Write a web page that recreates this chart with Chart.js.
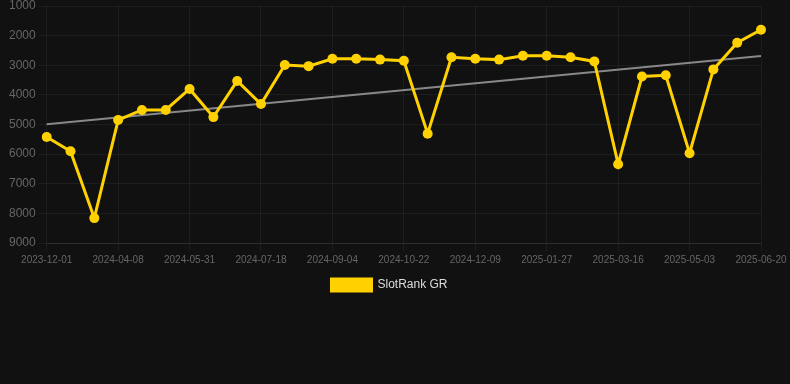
<!DOCTYPE html>
<html>
<head>
<meta charset="utf-8">
<script src="https://cdn.jsdelivr.net/npm/chart.js@4/dist/chart.umd.min.js"></script>
<style>
  html, body { margin: 0; padding: 0; background: #111111; }
  #wrap { width: 790px; height: 301px; position: relative; }
</style>
</head>
<body>
<div id="wrap"><canvas id="rankchart"></canvas></div>
<script>
// dates for each observation (every third one is shown on the axis)
const dates = [
  '2023-12-01', '2024-01-12', '2024-02-24', '2024-04-08', '2024-04-26', '2024-05-13',
  '2024-05-31', '2024-06-16', '2024-07-02', '2024-07-18', '2024-08-03', '2024-08-19',
  '2024-09-04', '2024-09-20', '2024-10-06', '2024-10-22', '2024-11-07', '2024-11-23',
  '2024-12-09', '2024-12-25', '2025-01-11', '2025-01-27', '2025-02-12', '2025-02-28',
  '2025-03-16', '2025-04-01', '2025-04-17', '2025-05-03', '2025-05-19', '2025-06-04',
  '2025-06-20'
];

// rank values
const rankGR = [
  5420, 5900, 8160, 4850, 4510, 4510, 3800, 4750, 3530, 4310, 2990,
  3030, 2780, 2780, 2810, 2850, 5310, 2730, 2780, 2810, 2680, 2680,
  2730, 2870, 6340, 3380, 3340, 5970, 3140, 2240, 1800
];

// trend line end points
const trend = dates.map(() => null);
trend[0] = 4990;
trend[dates.length - 1] = 2690;

const yTicks = [1000, 2000, 3000, 4000, 5000, 6000, 7000, 8000, 9000];

// nudge the legend a little to the right
const legendShift = {
  id: 'legendShift',
  afterLayout(chart) {
    chart.legend.left += 6;
    chart.legend.right += 6;
  }
};

new Chart(document.getElementById('rankchart'), {
  type: 'line',
  data: {
    labels: dates,
    datasets: [
      {
        label: 'SlotRank GR',
        data: rankGR,
        borderColor: '#FFD100',
        backgroundColor: '#FFD100',
        borderWidth: 3,
        pointRadius: 5,
        pointBackgroundColor: '#FFD100',
        pointBorderWidth: 0,
        tension: 0
      },
      {
        label: 'trend',
        data: trend,
        borderColor: 'rgba(150, 150, 150, 0.9)',
        borderWidth: 2,
        pointRadius: 0,
        spanGaps: true,
        fill: false
      }
    ]
  },
  options: {
    responsive: true,
    maintainAspectRatio: false,
    animation: false,
    layout: { padding: { top: 0, right: 29, left: 6 } },
    plugins: {
      tooltip: { enabled: false },
      legend: {
        position: 'bottom',
        labels: {
          color: '#dddddd',
          font: { family: 'Arial, "Liberation Sans", sans-serif', size: 12 },
          boxWidth: 40,
          boxHeight: 12,
          filter: item => item.text !== 'trend'
        }
      }
    },
    scales: {
      x: {
        grid: { color: 'rgba(255,255,255,0.05)' },
        border: { color: 'rgba(255,255,255,0.08)' },
        ticks: {
          color: '#666666',
          font: { family: 'Arial, "Liberation Sans", sans-serif', size: 10 },
          maxRotation: 0,
          autoSkip: false,
          callback: (value, index) => index % 3 === 0 ? dates[index] : null
        }
      },
      y: {
        reverse: true,
        min: 1000,
        max: 9000,
        grid: { color: 'rgba(255,255,255,0.05)' },
        border: { display: false },
        afterBuildTicks: axis => { axis.ticks = yTicks.map(v => ({ value: v })); },
        ticks: {
          color: '#666666',
          font: { family: 'Arial, "Liberation Sans", sans-serif', size: 12, lineHeight: 0.5 },
          callback: value => String(value)
        }
      }
    }
  },
  plugins: [legendShift]
});
</script>
</body>
</html>
